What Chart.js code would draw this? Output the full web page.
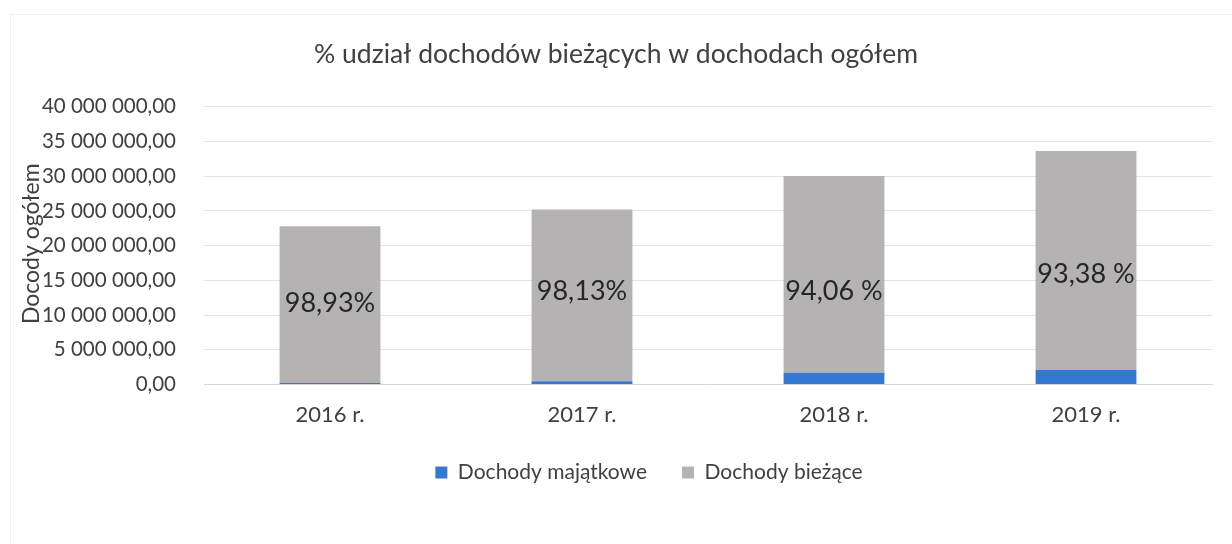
<!DOCTYPE html>
<html>
<head>
<meta charset="utf-8">
<script src="https://cdn.jsdelivr.net/npm/chart.js@4.4.1/dist/chart.umd.min.js"></script>
<style>
  html, body { margin: 0; padding: 0; background: #ffffff; }
  #wrap { position: relative; width: 1232px; height: 544px; }
  #frame { position: absolute; left: 10px; top: 14px; width: 1222px; height: 540px; border-left: 1px solid #f0f0f0; border-top: 1px solid #f0f0f0; box-sizing: border-box; pointer-events: none; }
</style>
</head>
<body>
<div id="wrap">
  <canvas id="c" width="1232" height="544"></canvas>
  <div id="frame"></div>
</div>
<script>
const categories = ['2016 r.', '2017 r.', '2018 r.', '2019 r.'];
const dochodyMajatkowe = [240000, 470000, 1700000, 2100000];
const dochodyBiezace = [22550000, 24750000, 28350000, 31550000];
const shareLabels = ['98,93%', '98,13%', '94,06 %', '93,38 %'];
const yTicks = [0, 5000000, 10000000, 15000000, 20000000, 25000000, 30000000, 35000000, 40000000];

const FONT = 'Lato, "Open Sans", sans-serif';
const TEXT = '#404040';

function fmt(v) {
  const s = Math.round(v).toString().replace(/\B(?=(\d{3})+(?!\d))/g, ' ');
  return s + ',00';
}

const shareLabelPlugin = {
  id: 'shareLabels',
  afterDatasetsDraw(chart, args, opts) {
    const meta = chart.getDatasetMeta(1);
    const ctx = chart.ctx;
    ctx.save();
    ctx.font = '27px ' + FONT;
    ctx.fillStyle = '#262626';
    ctx.textAlign = 'center';
    ctx.textBaseline = 'middle';
    meta.data.forEach((bar, i) => {
      const mid = (bar.y + bar.base) / 2 + (opts.offsets[i] || 0);
      ctx.fillText(shareLabels[i], bar.x, mid);
    });
    ctx.restore();
  }
};

const yTitlePlugin = {
  id: 'yTitle',
  afterDraw(chart) {
    const ctx = chart.ctx;
    const a = chart.chartArea;
    ctx.save();
    ctx.translate(32, (a.top + a.bottom) / 2 - 2);
    ctx.rotate(-Math.PI / 2);
    ctx.font = '23px ' + FONT;
    ctx.fillStyle = TEXT;
    ctx.textAlign = 'center';
    ctx.textBaseline = 'middle';
    ctx.fillText('Docody ogółem', 0, 0);
    ctx.restore();
  }
};

const legendShiftPlugin = {
  id: 'legendShift',
  afterLayout(chart, args, opts) {
    const lg = chart.legend;
    if (lg) { lg.left += opts.dx; lg.right += opts.dx; }
  }
};

new Chart(document.getElementById('c'), {
  type: 'bar',
  data: {
    labels: categories,
    datasets: [
      { label: 'Dochody majątkowe', data: dochodyMajatkowe, backgroundColor: '#3478d0', borderWidth: 0 },
      { label: 'Dochody bieżące', data: dochodyBiezace, backgroundColor: '#b4b2b3', borderWidth: 0 }
    ]
  },
  options: {
    responsive: false,
    animation: false,
    devicePixelRatio: 1,
    layout: { padding: { left: 20, right: 20, top: 0, bottom: 51 } },
    datasets: { bar: { categoryPercentage: 1.0, barPercentage: 0.4 } },
    plugins: {
      title: {
        display: true,
        text: '% udział dochodów bieżących w dochodach ogółem',
        color: TEXT,
        font: { family: FONT, size: 26.5, weight: 'normal' },
        padding: { top: 39, bottom: 36 }
      },
      legend: {
        position: 'bottom',
        labels: {
          color: TEXT,
          font: { family: FONT, size: 21 },
          boxWidth: 12,
          boxHeight: 12,
          padding: 35
        }
      },
      tooltip: { enabled: false },
      shareLabels: { offsets: [-1, -4, 17, 14] },
      legendShift: { dx: 33 }
    },
    scales: {
      x: {
        stacked: true,
        grid: { display: false },
        border: { display: true, color: '#d9d9d9' },
        afterFit(scale) { scale.height -= 10; },
        ticks: { color: TEXT, font: { family: FONT, size: 22 }, padding: 9 }
      },
      y: {
        stacked: true,
        min: 0,
        max: 40000000,
        afterFit(scale) { scale.width = 184; },
        afterBuildTicks(scale) { scale.ticks = yTicks.map(v => ({ value: v })); },
        grid: { color: '#e3e3e3', drawTicks: false },
        border: { display: false },
        ticks: {
          color: TEXT,
          font: { family: FONT, size: 20.5 },
          padding: 28,
          callback: v => fmt(v)
        }
      }
    }
  },
  plugins: [shareLabelPlugin, yTitlePlugin, legendShiftPlugin]
});
</script>
</body>
</html>
